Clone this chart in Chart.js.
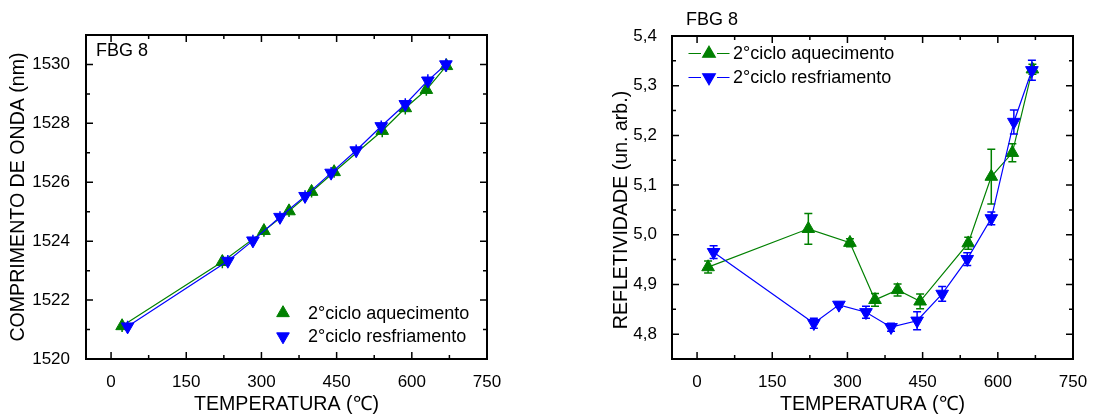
<!DOCTYPE html>
<html><head><meta charset="utf-8">
<script src="https://cdn.jsdelivr.net/npm/chart.js@4/dist/chart.umd.min.js"></script>
<style>
html,body{margin:0;padding:0;background:#fff;}
#wrap{position:relative;width:1095px;height:416px;overflow:hidden;background:#fff;}
canvas{position:absolute;top:0;}
#c1{left:0;} #c2{left:548px;}
</style></head><body>
<div id="wrap"><canvas id="c1" width="548" height="416"></canvas><canvas id="c2" width="547" height="416"></canvas></div>
<script>
// ---- data ----
const seriesLabels = ['2°ciclo aquecimento', '2°ciclo resfriamento'];
const heatTemp = [22, 222, 305, 355, 400, 445, 541, 587, 629, 669];
const coolTemp = [33, 233, 283, 337, 387, 439, 489, 539, 587, 632, 668];

const heatWavelength = [1521.12, 1523.30, 1524.35, 1525.02, 1525.68, 1526.35, 1527.75, 1528.52, 1529.14, 1529.95];
const heatWavelengthErr = [0.2, 0.22, 0.2, 0.2, 0.2, 0.2, 0.22, 0.22, 0.2, 0.2];
const coolWavelength = [1521.10, 1523.33, 1524.02, 1524.82, 1525.53, 1526.32, 1527.08, 1527.90, 1528.65, 1529.45, 1530.00];
const coolWavelengthErr = [0.2, 0.2, 0.2, 0.2, 0.2, 0.2, 0.2, 0.2, 0.2, 0.22, 0.2];

const heatRefl = [4.935, 5.012, 4.984, 4.869, 4.889, 4.866, 4.983, 5.117, 5.165, 5.333];
const heatReflErr = [0.012, 0.031, 0.008, 0.013, 0.012, 0.015, 0.012, 0.055, 0.018, 0.010];
const coolRefl = [4.965, 4.822, 4.859, 4.844, 4.814, 4.827, 4.881, 4.951, 5.033, 5.227, 5.331];
const coolReflErr = [0.013, 0.010, 0.005, 0.012, 0.008, 0.018, 0.015, 0.013, 0.013, 0.024, 0.020];

const tempTicks = [0, 150, 300, 450, 600, 750];
const wavelengthTicks = [1520, 1522, 1524, 1526, 1528, 1530];
const reflTicks = [4.8, 4.9, 5.0, 5.1, 5.2, 5.3, 5.4];

// ---- helpers ----
const FONT = '"Liberation Sans", Arial, Helvetica, sans-serif';
Chart.defaults.font.family = FONT;
Chart.defaults.color = '#000';
const GREEN = '#008000', BLUE = '#0000ff';

function pts(xs, ys) { return xs.map((x, i) => ({x: x, y: ys[i]})); }

function tickFramePlugin() {
  return {
    id: 'tickFrame',
    afterDraw(chart) {
      const {ctx, chartArea: a} = chart;
      const xs = chart.scales.x, ys = chart.scales.y;
      const mids = arr => arr.slice(1).map((v, i) => (v + arr[i]) / 2);
      const xMaj = xs.ticks.map(t => t.value), yMaj = ys.ticks.map(t => t.value);
      ctx.save();
      ctx.strokeStyle = '#000';
      ctx.lineWidth = 1.5;
      ctx.beginPath();
      const vx = (vals, len) => vals.forEach(v => {
        const p = xs.getPixelForValue(v);
        if (p <= a.left + 1 || p >= a.right - 1) return;
        ctx.moveTo(p, a.bottom); ctx.lineTo(p, a.bottom - len);
        ctx.moveTo(p, a.top); ctx.lineTo(p, a.top + len);
      });
      const vy = (vals, len) => vals.forEach(v => {
        const p = ys.getPixelForValue(v);
        if (p <= a.top + 1 || p >= a.bottom - 1) return;
        ctx.moveTo(a.left, p); ctx.lineTo(a.left + len, p);
        ctx.moveTo(a.right, p); ctx.lineTo(a.right - len, p);
      });
      vx(xMaj, 7); vx(mids(xMaj), 4);
      vy(yMaj, 7); vy(mids(yMaj), 4);
      ctx.stroke();
      ctx.lineWidth = 2;
      ctx.strokeRect(a.left, a.top, a.right - a.left, a.bottom - a.top);
      ctx.restore();
    }
  };
}

function errorBarPlugin(cap) {
  return {
    id: 'errorBars',
    afterDatasetDraw(chart, args) {
      const ds = chart.data.datasets[args.index];
      if (!ds.errors) return;
      const ctx = chart.ctx, ys = chart.scales.y, a = chart.chartArea;
      ctx.save();
      ctx.beginPath(); ctx.rect(a.left, a.top, a.right - a.left, a.bottom - a.top); ctx.clip();
      ctx.strokeStyle = ds.borderColor;
      ctx.lineWidth = 1.5;
      ctx.beginPath();
      args.meta.data.forEach((el, i) => {
        const v = ds.data[i].y, e = ds.errors[i];
        const t = ys.getPixelForValue(v + e), b = ys.getPixelForValue(v - e);
        ctx.moveTo(el.x, t); ctx.lineTo(el.x, b);
        if (cap > 0) {
          ctx.moveTo(el.x - cap, t); ctx.lineTo(el.x + cap, t);
          ctx.moveTo(el.x - cap, b); ctx.lineTo(el.x + cap, b);
        }
      });
      ctx.stroke();
      ctx.restore();
    }
  };
}

function drawTri(ctx, x, y, r, rot) {
  if (Chart.helpers && Chart.helpers.drawPoint) {
    Chart.helpers.drawPoint(ctx, {pointStyle: 'triangle', radius: r, rotation: rot, borderWidth: 1}, x, y);
  }
}

function legendPlugin(cfg) {
  return {
    id: 'seriesLegend',
    afterDraw(chart) {
      const ctx = chart.ctx;
      ctx.save();
      chart.data.datasets.forEach((ds, i) => {
        const y = cfg.y + i * cfg.dy;
        if (cfg.line) {
          ctx.strokeStyle = ds.borderColor; ctx.lineWidth = 1.2;
          ctx.beginPath();
          ctx.moveTo(cfg.x - cfg.half, y); ctx.lineTo(cfg.x - 8, y);
          ctx.moveTo(cfg.x + 8, y); ctx.lineTo(cfg.x + cfg.half, y);
          ctx.stroke();
        }
        ctx.fillStyle = ds.borderColor; ctx.strokeStyle = ds.borderColor;
        drawTri(ctx, cfg.x, y, 7.3, ds.pointRotation || 0);
        ctx.fillStyle = '#000';
        ctx.font = cfg.size + 'px ' + FONT;
        ctx.textAlign = 'left'; ctx.textBaseline = 'middle';
        ctx.fillText(ds.label, cfg.textX, y + 1);
      });
      ctx.restore();
    }
  };
}

function textPlugin(items) {
  return {
    id: 'texts',
    afterDraw(chart) {
      const ctx = chart.ctx;
      items.forEach(t => {
        ctx.save();
        ctx.translate(t.x, t.y);
        ctx.rotate(t.rot || 0);
        ctx.font = t.size + 'px ' + FONT;
        ctx.textAlign = t.align || 'left';
        ctx.textBaseline = 'middle';
        ctx.fillStyle = '#000';
        ctx.fillText(t.text, 0, 0);
        ctx.restore();
      });
    }
  };
}

function dataset(label, xs, ys, errs, color, rot, order) {
  return {
    label: label,
    data: pts(xs, ys),
    errors: errs,
    borderColor: color,
    backgroundColor: color,
    pointBackgroundColor: color,
    pointBorderColor: color,
    pointStyle: 'triangle',
    pointRotation: rot,
    pointRadius: 7.3,
    pointBorderWidth: 1,
    borderWidth: 1.2,
    tension: 0,
    showLine: true,
    fill: false,
    order: order
  };
}

function xScale() {
  return {
    type: 'linear', min: -50, max: 750,
    afterBuildTicks: s => { s.ticks = tempTicks.map(v => ({value: v})); },
    afterFit: s => { s.height = 57; },
    grid: {display: false}, border: {display: false},
    ticks: {padding: 5, font: {size: 17}, color: '#000', maxRotation: 0, autoSkip: false, callback: v => String(v)},
    title: {display: true, text: 'TEMPERATURA (℃)', font: {size: 19.6}, color: '#000', padding: {top: 0, bottom: 0}}
  };
}

// ---- left chart ----
new Chart(document.getElementById('c1'), {
  type: 'scatter',
  data: {
    datasets: [
      dataset(seriesLabels[0], heatTemp, heatWavelength, heatWavelengthErr, GREEN, 0, 1),
      dataset(seriesLabels[1], coolTemp, coolWavelength, coolWavelengthErr, BLUE, 180, 0)
    ]
  },
  options: {
    responsive: false, animation: false, events: [],
    layout: {padding: {top: 35, right: 61, bottom: 0, left: 0}},
    plugins: {legend: {display: false}, tooltip: {enabled: false}},
    scales: {
      x: xScale(),
      y: {
        type: 'linear', min: 1520, max: 1531,
        afterBuildTicks: s => { s.ticks = wavelengthTicks.map(v => ({value: v})); },
        afterFit: s => { s.width = 86; },
        grid: {display: false}, border: {display: false},
        ticks: {padding: 8, font: {size: 17}, color: '#000', autoSkip: false, callback: v => String(v)},
        title: {display: true, text: 'COMPRIMENTO DE ONDA (nm)', font: {size: 19.6}, color: '#000', padding: {top: 7, bottom: 0}}
      }
    }
  },
  plugins: [errorBarPlugin(0), tickFramePlugin(),
    legendPlugin({x: 283, y: 313, dy: 23.5, line: false, half: 0, textX: 308, size: 18}),
    textPlugin([{text: 'FBG 8', x: 96, y: 51, size: 18}])]
});

// ---- right chart ----
new Chart(document.getElementById('c2'), {
  type: 'scatter',
  data: {
    datasets: [
      dataset(seriesLabels[0], heatTemp, heatRefl, heatReflErr, GREEN, 0, 1),
      dataset(seriesLabels[1], coolTemp, coolRefl, coolReflErr, BLUE, 180, 0)
    ]
  },
  options: {
    responsive: false, animation: false, events: [],
    layout: {padding: {top: 36, right: 22, bottom: 0, left: 0}},
    plugins: {legend: {display: false}, tooltip: {enabled: false}},
    scales: {
      x: xScale(),
      y: {
        type: 'linear', min: 4.75, max: 5.4,
        afterBuildTicks: s => { s.ticks = reflTicks.map(v => ({value: v})); },
        afterFit: s => { s.width = 124; },
        grid: {display: false}, border: {display: false},
        ticks: {padding: 7, font: {size: 17}, color: '#000', autoSkip: false, callback: v => Number(v).toFixed(1).replace('.', ',')},
        title: {display: false}
      }
    }
  },
  plugins: [errorBarPlugin(4), tickFramePlugin(),
    legendPlugin({x: 161, y: 53.5, dy: 24, line: true, half: 20.5, textX: 185, size: 18}),
    textPlugin([
      {text: 'FBG 8', x: 138, y: 20, size: 18},
      {text: 'REFLETIVIDADE (un. arb.)', x: 74, y: 210, size: 19.6, rot: -Math.PI / 2, align: 'center'}
    ])]
});
</script>
</body></html>
